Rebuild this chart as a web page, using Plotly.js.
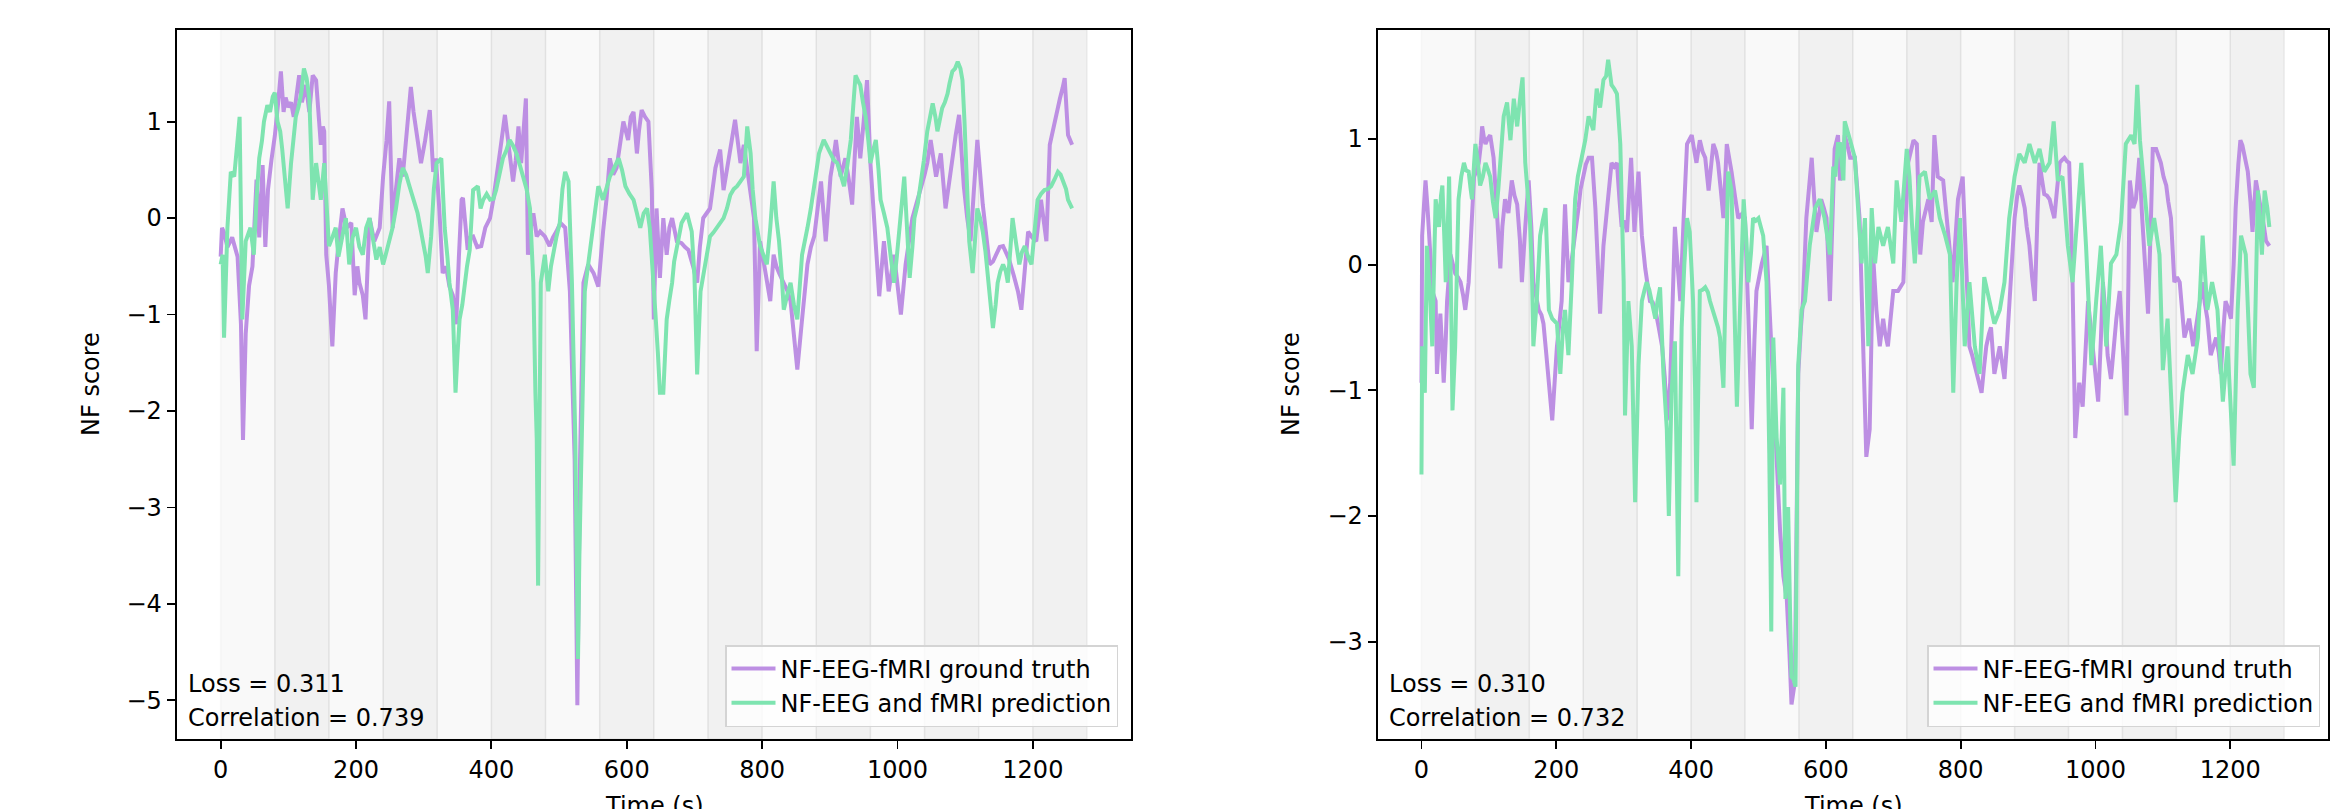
<!DOCTYPE html>
<html>
<head>
<meta charset="utf-8">
<script src="https://cdn.plot.ly/plotly-3.0.1.min.js"></script>
<style>html,body{margin:0;padding:0;background:#fff;}#chart{width:2335px;height:809px;}</style>
</head>
<body>
<div id="chart"></div>
<script>
// ---------- DATA ----------
const bandEdges = [0,80,160,240,320,400,480,560,640,720,800,880,960,1040,1120,1200,1280];
const xTicks = [0,200,400,600,800,1000,1200];
const yTicksLeft = [-5,-4,-3,-2,-1,0,1];
const yTicksRight = [-3,-2,-1,0,1];
const seriesNames = ["NF-EEG-fMRI ground truth","NF-EEG and fMRI prediction"];
const statsLeft = ["Loss = 0.311","Correlation = 0.739"];
const statsRight = ["Loss = 0.310","Correlation = 0.732"];

// Left panel: ground truth
const tGtA = [0,2,5,10,17,25,30,33,37,42,47,53,57,62,66,70,75,80,85,89,93,96,100,104,108,112,116,120,126,131,136,141,145,148,151,153,156,160,165,170,175,180,186,193,198,202,205,210,214,220,227,235,240,245,249,254,259,264,269,275,281,285,289,296,302,309,314,318,323,328,333,338,343,346,348,352,356,358,362,365,369,373,379,385,391,398,403,407,413,420,424,427,432,436,440,444,448,451,454,458,462,467,472,479,486,491,496,502,509,516,519,523,527,531,536,543,551,558,565,570,575,580,585,590,595,602,606,610,615,618,622,627,632,637,640,644,649,654,659,663,667,674,681,686,691,698,704,708,713,718,723,731,738,743,750,755,760,764,768,773,780,784,788,792,797,801,805,812,817,821,825,832,837,842,847,852,859,863,867,872,877,882,887,894,901,905,909,916,923,928,933,940,945,950,955,960,965,969,973,980,987,995,1000,1005,1012,1017,1022,1028,1034,1040,1044,1049,1057,1064,1071,1079,1086,1091,1098,1103,1108,1113,1118,1126,1131,1136,1141,1146,1151,1156,1160,1165,1172,1178,1183,1188,1193,1199,1205,1212,1220,1225,1232,1236,1240,1244,1247,1252,1258];
const gtA = [-0.4,-0.1,-0.15,-0.3,-0.2,-0.4,-1.1,-2.3,-1.2,-0.7,-0.5,0.4,-0.2,0.55,-0.3,0.3,0.6,0.85,1.2,1.52,1.1,1.25,1.15,1.2,1.05,1.3,1.48,1.2,1.38,1.1,1.48,1.43,1.1,0.76,0.95,0.9,-0.38,-0.7,-1.33,-0.57,-0.2,0.1,-0.1,-0.05,-0.8,-0.5,-0.67,-0.8,-1.05,0,-0.24,-0.1,0.43,0.8,1.21,-0.1,0.3,0.62,0.43,0.9,1.36,1.1,0.9,0.57,0.8,1.12,0.48,0.62,0.1,-0.57,-0.5,-0.71,-0.8,-0.95,-1.1,-0.4,0.19,0.21,-0.1,-0.33,-0.2,-0.19,-0.3,-0.29,-0.1,0,0.2,0.43,0.7,1.07,0.85,0.71,0.38,0.6,0.95,0.57,0.9,1.24,-0.38,-0.1,0.05,-0.19,-0.14,-0.19,-0.29,-0.2,-0.14,-0.05,-0.1,-0.76,-1.52,-2.5,-5.05,-2.5,-0.67,-0.48,-0.57,-0.71,-0.14,0.19,0.62,0.45,0.52,0.8,1.0,0.81,1.05,1.1,0.67,0.9,1.12,1.05,1.0,0.29,-1.05,0.1,-0.62,0,-0.38,-0.1,0,-0.24,-0.26,-0.3,-0.33,-0.5,-0.67,-0.3,0,0.05,0.1,0.52,0.71,0.29,0.62,0.8,1.02,0.75,0.57,0.76,0.38,0.2,0,-1.38,-0.24,-0.4,-0.57,-0.86,-0.38,-0.5,-0.57,-0.67,-0.75,-0.86,-1.2,-1.57,-1.05,-0.7,-0.48,-0.3,-0.19,0.1,0.38,-0.24,0.43,0.6,0.81,0.43,0.62,0.4,0.14,1.05,0.62,1.0,1.43,0.57,0.05,-0.4,-0.81,-0.24,-0.76,-0.38,-0.7,-1.0,-0.48,-0.2,0,0.15,0.29,0.45,0.57,0.81,0.43,0.67,0.1,0.52,0.86,1.07,0.33,0.0,-0.24,0.3,0.81,0.14,-0.2,-0.48,-0.45,-0.38,-0.3,-0.29,-0.35,-0.43,-0.6,-0.76,-0.95,-0.5,-0.14,-0.2,-0.24,0.19,-0.24,0.76,1.0,1.1,1.24,1.35,1.45,0.86,0.76];

// Left panel: prediction
const tPredA = [0,3,5,10,15,20,25,28,32,37,44,49,53,57,61,64,69,73,77,80,84,88,91,95,99,104,108,111,115,119,123,127,131,134,136,141,145,148,153,157,160,165,170,174,178,182,185,190,195,200,205,210,215,220,225,230,235,240,245,249,254,259,264,269,274,279,285,291,295,299,303,306,311,315,319,326,331,335,338,343,347,350,353,357,360,364,368,373,380,384,388,393,398,403,407,412,417,422,427,432,437,442,447,452,457,462,465,467,469,471,473,479,484,488,491,496,501,505,509,514,519,522,524,526,528,530,533,536,538,543,547,551,555,558,565,570,575,580,588,593,598,604,610,615,620,625,630,634,637,642,646,649,654,659,663,667,670,674,681,689,696,700,704,709,716,723,728,733,738,743,748,753,758,763,768,773,778,783,786,790,797,802,807,812,817,821,825,829,832,837,842,847,852,859,863,867,872,877,884,891,896,901,906,911,916,921,926,931,935,938,942,945,949,953,957,960,964,968,972,975,980,985,990,995,999,1003,1007,1010,1014,1018,1022,1025,1030,1034,1039,1044,1048,1052,1056,1059,1062,1066,1070,1074,1077,1081,1085,1089,1093,1096,1099,1101,1104,1106,1111,1115,1118,1122,1126,1130,1133,1137,1141,1145,1148,1152,1156,1160,1163,1167,1170,1175,1180,1184,1188,1193,1198,1203,1207,1212,1217,1222,1227,1232,1237,1241,1245,1249,1252,1255,1258];
const predA = [-0.48,-0.38,-1.24,-0.1,0.48,0.43,0.81,1.05,-1.05,-0.24,-0.1,-0.38,0.2,0.62,0.8,1.0,1.17,1.1,1.26,1.3,1.0,0.9,0.71,0.4,0.1,0.57,0.8,1.05,1.15,1.29,1.55,1.45,1.24,0.6,0.19,0.57,0.3,0.19,0.57,0.1,-0.29,-0.2,-0.1,-0.4,-0.24,-0.1,0,-0.48,-0.2,-0.1,-0.3,-0.38,-0.1,0,-0.2,-0.43,-0.3,-0.48,-0.35,-0.24,-0.1,0.1,0.35,0.52,0.45,0.33,0.2,0.05,-0.1,-0.24,-0.4,-0.57,-0.19,0.3,0.57,0.62,-0.1,-0.4,-0.67,-0.95,-1.81,-1.4,-1.05,-0.9,-0.71,-0.5,-0.33,0.29,0.33,0.1,0.19,0.25,0.19,0.2,0.29,0.45,0.62,0.7,0.81,0.75,0.67,0.55,0.43,0.3,0.1,-0.67,-1.8,-2.29,-3.81,-2.0,-0.67,-0.38,-0.76,-0.5,-0.38,-0.2,-0.05,0.3,0.48,0.38,-0.67,-1.5,-2.29,-3.5,-4.57,-3.5,-2.29,-1.3,-0.76,-0.48,-0.25,-0.05,0.15,0.33,0.19,0.3,0.43,0.5,0.62,0.5,0.33,0.25,0.19,0.05,-0.1,0.05,0.1,-0.1,-0.48,-0.95,-1.4,-1.81,-1.81,-1.05,-0.85,-0.67,-0.45,-0.29,-0.05,0.05,-0.14,-0.6,-1.62,-0.76,-0.48,-0.19,-0.15,-0.1,-0.05,0,0.1,0.24,0.3,0.33,0.38,0.43,0.95,0.67,0.3,0,-0.29,-0.4,-0.48,-0.1,0.38,0.0,-0.24,-0.6,-0.95,-0.8,-0.67,-0.9,-1.05,-0.38,-0.25,-0.1,0.1,0.33,0.67,0.81,0.75,0.67,0.6,0.57,0.45,0.33,0.55,0.81,1.2,1.48,1.42,1.38,1.2,1.05,0.8,0.57,0.7,0.81,0.5,0.19,0.05,-0.1,-0.4,-0.67,-0.4,-0.14,0.2,0.43,-0.1,-0.62,-0.3,0,0.15,0.33,0.6,0.9,1.05,1.19,1.05,0.9,1.0,1.14,1.2,1.29,1.4,1.52,1.55,1.62,1.55,1.43,1.0,0.57,0.2,-0.24,-0.57,-0.2,0.1,0.0,-0.14,-0.35,-0.57,-0.85,-1.14,-0.9,-0.67,-0.55,-0.48,-0.55,-0.67,-0.3,0,-0.25,-0.48,-0.35,-0.29,-0.4,-0.48,-0.1,0.19,0.25,0.29,0.3,0.33,0.4,0.48,0.45,0.38,0.3,0.19,0.15,0.1];

// Right panel: ground truth
const tGtB = [0,1,4,6,9,11,14,16,21,23,26,28,31,33,36,38,43,47,50,54,58,62,65,70,74,78,82,85,88,90,93,95,98,102,107,112,117,120,124,129,134,138,142,146,149,154,159,163,166,170,174,178,181,185,189,194,198,201,205,208,213,218,222,226,230,233,236,240,244,248,253,258,262,265,270,275,279,282,286,290,294,297,301,305,311,316,322,327,332,336,339,343,347,352,357,361,364,369,373,376,380,384,389,394,398,401,405,408,413,417,421,426,430,433,437,440,444,448,453,457,460,465,470,475,480,485,490,494,497,501,505,512,516,520,524,528,532,537,542,546,549,554,557,559,563,566,571,575,579,583,586,590,593,597,601,606,609,613,618,621,626,628,632,636,643,647,650,655,660,665,668,670,675,680,685,688,692,696,700,707,711,715,718,722,726,730,735,740,744,748,752,757,761,766,770,774,777,781,785,788,792,796,803,808,813,817,821,826,831,835,838,842,845,850,854,858,862,865,869,872,876,880,884,887,891,895,898,902,906,910,914,917,920,924,928,932,935,939,943,947,950,954,958,961,964,966,970,973,976,981,985,989,993,996,1000,1004,1008,1011,1015,1018,1023,1027,1031,1036,1041,1046,1051,1056,1060,1065,1069,1073,1078,1082,1085,1090,1094,1097,1101,1105,1108,1112,1117,1121,1125,1129,1132,1136,1139,1145,1149,1152,1155,1159,1162,1166,1171,1175,1179,1183,1186,1190,1193,1197,1201,1205,1208,1212,1215,1218,1221,1226,1230,1233,1238,1242,1246,1250,1253,1258];
const gtB = [-0.94,0.23,0.5,0.67,0.45,0.3,0.0,-0.21,-0.29,-0.87,-0.6,-0.39,-0.7,-0.94,-0.6,-0.29,0.08,0.0,-0.07,-0.1,-0.14,-0.25,-0.36,-0.14,0.3,0.7,0.75,0.81,0.95,1.1,1.0,0.96,1.0,1.03,0.85,0.37,-0.03,0.3,0.52,0.41,0.67,0.55,0.48,0.2,-0.14,0.3,0.67,0.3,-0.14,-0.25,-0.36,-0.4,-0.47,-0.7,-0.98,-1.24,-0.9,-0.65,-0.45,-0.29,0.48,-0.14,0.0,0.15,0.3,0.45,0.6,0.7,0.8,0.85,0.85,0.45,0.0,-0.39,0.15,0.45,0.65,0.81,0.78,0.81,0.5,0.3,0.35,0.26,0.85,0.26,0.74,0.23,-0.03,-0.2,-0.29,-0.3,-0.36,-0.5,-0.65,-0.9,-1.24,-0.94,-0.3,0.3,0.0,-0.29,0.37,0.96,1.0,1.03,0.9,0.81,0.99,0.9,0.85,0.59,0.8,0.96,0.9,0.81,0.6,0.37,0.96,0.85,0.74,0.55,0.37,0.4,0.37,-0.4,-1.31,-0.6,-0.21,-0.1,0.01,0.15,-0.3,-0.87,-1.31,-1.7,-2.11,-2.48,-2.66,-3.1,-3.5,-3.32,-2.0,-0.87,-0.5,-0.29,0.37,0.6,0.85,0.5,0.26,0.4,0.52,0.45,0.37,-0.29,0.3,0.92,1.03,0.67,0.85,1.03,0.95,0.85,0.85,0.6,0.37,-0.58,-1.53,-1.31,-0.3,0.08,-0.36,-0.65,-0.43,-0.55,-0.65,-0.4,-0.21,-0.21,-0.18,-0.14,0.3,0.81,0.9,0.99,0.96,0.08,0.34,0.45,0.52,0.34,1.03,0.7,0.68,0.67,0.5,0.3,0.05,-0.14,0.2,0.52,0.7,0.08,-0.65,-0.72,-0.8,-0.9,-1.02,-0.8,-0.65,-0.55,-0.5,-0.87,-0.75,-0.65,-0.8,-0.91,-0.6,-0.36,0.0,0.37,0.55,0.63,0.55,0.45,0.3,0.15,-0.1,-0.29,0.4,0.81,0.7,0.56,0.55,0.52,0.45,0.37,0.6,0.81,0.83,0.85,0.82,0.81,0.3,-0.14,-1.38,-1.1,-0.94,-1.13,-0.7,-0.29,-0.5,-0.65,-0.9,-1.09,-0.6,-0.14,-0.4,-0.72,-0.91,-0.65,-0.43,-0.21,-0.7,-1.2,0.67,0.45,0.52,0.85,0.4,0.01,-0.39,0.3,0.92,0.92,0.85,0.81,0.7,0.63,0.5,0.37,-0.14,-0.1,-0.14,-0.4,-0.58,-0.5,-0.43,-0.65,-0.5,-0.36,-0.25,-0.14,-0.3,-0.43,-0.72,-0.65,-0.58,-0.7,-0.87,-0.5,-0.29,-0.35,-0.43,0.0,0.45,0.8,0.99,0.95,0.88,0.74,0.5,0.26,0.67,0.55,0.45,0.3,0.19,0.15];

// Right panel: prediction
const tPredB = [0,1,3,5,8,11,13,16,19,21,24,26,29,31,34,36,39,41,44,46,50,53,55,59,63,66,70,73,75,78,80,84,87,91,95,99,102,106,110,114,117,122,127,132,137,142,147,150,154,158,161,164,166,171,176,180,184,187,189,194,198,201,206,210,213,218,223,228,232,236,240,243,248,252,255,260,265,270,274,277,280,282,286,290,295,298,300,302,307,312,315,317,322,327,331,334,338,342,347,350,354,359,364,367,371,376,379,381,384,386,390,394,398,403,406,408,413,417,421,425,428,432,436,440,443,448,452,455,460,464,468,473,478,482,485,489,492,496,500,507,512,516,519,522,527,532,537,540,544,547,549,552,555,557,559,564,569,576,580,584,591,598,606,611,614,618,621,626,628,632,636,643,648,653,658,663,668,673,678,685,692,700,705,712,720,724,728,732,739,747,754,762,769,777,784,789,794,799,806,813,821,828,835,843,850,858,865,872,880,887,895,902,910,917,924,932,938,944,951,959,966,974,979,986,994,1001,1008,1016,1023,1031,1038,1045,1053,1058,1062,1066,1073,1080,1087,1095,1100,1107,1112,1119,1124,1129,1137,1144,1152,1159,1166,1173,1181,1189,1196,1205,1211,1216,1223,1230,1235,1241,1247,1251,1255,1258];
const predB = [-1.67,-0.65,-0.8,-1.02,0.15,-0.1,-0.29,-0.65,0.2,0.52,0.4,0.3,0.55,0.63,0.2,-0.14,0.3,0.7,-0.3,-1.16,-0.65,0.1,0.52,0.7,0.81,0.75,0.74,0.6,0.52,0.8,0.96,0.8,0.63,0.7,0.81,0.75,0.7,0.5,0.37,0.6,0.81,1.18,1.29,0.99,1.32,1.1,1.36,1.49,0.81,0.5,0.34,-0.1,-0.65,-0.29,0.23,0.35,0.45,0.0,-0.36,-0.43,-0.45,-0.47,-0.87,-0.5,-0.36,-0.72,-0.14,0.52,0.7,0.81,0.9,0.99,1.18,1.1,1.07,1.4,1.25,1.47,1.5,1.63,1.5,1.43,1.4,1.36,0.96,0.4,-0.14,-1.2,-0.29,-0.65,-1.3,-1.89,-0.8,-0.29,-0.2,-0.14,-0.2,-0.29,-0.43,-0.3,-0.18,-0.87,-1.31,-2.0,-1.02,-0.61,-1.5,-2.48,-1.2,-0.5,0.0,0.37,0.26,-0.29,-1.0,-1.89,-0.21,-0.2,-0.18,-0.22,-0.29,-0.35,-0.43,-0.5,-0.58,-0.98,0.0,0.74,0.59,-0.3,-1.13,-0.29,0.52,0.2,-0.14,0.1,0.37,0.35,0.37,0.23,-0.14,-1.5,-2.92,-0.58,-1.38,-1.75,-0.98,-2.66,-1.93,-2.8,-3.28,-3.3,-3.36,-2.0,-0.8,-0.36,-0.29,0.15,0.3,0.45,0.52,0.37,0.08,0.78,0.7,0.96,0.96,0.67,1.14,1.05,0.99,0.85,0.37,0.01,0.37,-0.65,0.45,0.01,0.3,0.15,0.3,0.01,0.67,0.34,0.92,0.7,0.3,0.01,0.7,0.74,0.52,0.59,0.37,0.23,0.08,-1.02,-0.14,0.37,-0.65,-0.14,-0.65,-0.87,-0.1,-0.29,-0.47,-0.36,-0.14,0.37,0.7,0.88,0.81,0.96,0.81,0.92,0.74,0.81,1.14,0.67,0.7,0.15,-0.14,0.45,0.81,0.15,-0.8,-0.29,0.15,-0.65,0.01,0.08,0.34,0.96,1.03,0.96,1.43,0.99,0.59,0.15,0.37,0.08,-0.84,-0.43,-1.02,-1.89,-1.38,-1.02,-0.72,-0.87,-0.58,0.23,-0.36,-0.14,-0.36,-1.09,-0.65,-1.6,-0.36,0.23,0.08,-0.87,-0.98,0.59,0.08,0.59,0.45,0.3];

// ---------- STYLE ----------
const PURPLE = '#bd8fe3';
const GREEN = '#7ee4b0';
const FONT = 'DejaVu Sans, Verdana, sans-serif';
const W = 2335, H = 809;
const leftPx = [177, 1131], rightPx = [1378, 2328], topPx = 29.5, botPx = 739;
const px2x = p => p / W, px2y = p => (H - p) / H;

const traces = [
  {x: tGtA, y: gtA, name: seriesNames[0], xaxis:'x', yaxis:'y', legend:'legend', mode:'lines', line:{color:PURPLE, width:4}},
  {x: tPredA, y: predA, name: seriesNames[1], xaxis:'x', yaxis:'y', legend:'legend', mode:'lines', line:{color:GREEN, width:4}},
  {x: tGtB, y: gtB, name: seriesNames[0], xaxis:'x2', yaxis:'y2', legend:'legend2', mode:'lines', line:{color:PURPLE, width:4}},
  {x: tPredB, y: predB, name: seriesNames[1], xaxis:'x2', yaxis:'y2', legend:'legend2', mode:'lines', line:{color:GREEN, width:4}}
];

const shapes = [];
['x','x2'].forEach(xr => {
  for (let i = 0; i < bandEdges.length - 1; i++) {
    const a = i % 2 === 0 ? 0.05 : 0.11;
    shapes.push({type:'rect', layer:'below', xref:xr, yref:(xr==='x'?'y domain':'y2 domain'),
      x0:bandEdges[i], x1:bandEdges[i+1], y0:0, y1:1,
      fillcolor:`rgba(128,128,128,${a})`, line:{color:`rgba(128,128,128,${a})`, width:1.5}});
  }
});

const axisCommon = {
  showgrid:false, zeroline:false, showline:true, mirror:true, linecolor:'#000', linewidth:1.9,
  ticks:'outside', ticklen:8.5, tickwidth:1.9, tickcolor:'#000',
  tickfont:{family:FONT, size:24, color:'#000'}, fixedrange:true
};

const legendCommon = {xanchor:'right', y:px2y(727), yanchor:'bottom', bgcolor:'rgba(255,255,255,0.8)',
  bordercolor:'#d4d4d4', borderwidth:1.5, font:{family:FONT, size:24, color:'#000'}, traceorder:'normal', itemwidth:44};

const layout = {
  width:W, height:H, margin:{l:0,r:0,t:0,b:0}, paper_bgcolor:'#fff', plot_bgcolor:'#fff',
  font:{family:FONT, size:24, color:'#000'},
  xaxis: Object.assign({}, axisCommon, {domain:[px2x(leftPx[0]), px2x(leftPx[1])], range:[-64.5,1345], tickvals:xTicks, anchor:'y'}),
  yaxis: Object.assign({}, axisCommon, {domain:[px2y(botPx), px2y(topPx)], range:[-5.40,1.955], tickvals:yTicksLeft, anchor:'x'}),
  xaxis2: Object.assign({}, axisCommon, {domain:[px2x(rightPx[0]), px2x(rightPx[1])], range:[-64.5,1345], tickvals:xTicks, anchor:'y2'}),
  yaxis2: Object.assign({}, axisCommon, {domain:[px2y(botPx), px2y(topPx)], range:[-3.775,1.871], tickvals:yTicksRight, anchor:'x2'}),
  shapes: shapes,
  legend: Object.assign({}, legendCommon, {x:px2x(1118)}),
  legend2: Object.assign({}, legendCommon, {x:px2x(2320)}),
  showlegend:true,
  annotations: [
    {text:statsLeft[0], xref:'paper', yref:'paper', x:px2x(186), y:px2y(684), xanchor:'left', yanchor:'middle', showarrow:false, font:{family:FONT,size:24,color:'#000'}},
    {text:statsLeft[1], xref:'paper', yref:'paper', x:px2x(186), y:px2y(717.5), xanchor:'left', yanchor:'middle', showarrow:false, font:{family:FONT,size:24,color:'#000'}},
    {text:statsRight[0], xref:'paper', yref:'paper', x:px2x(1387), y:px2y(684), xanchor:'left', yanchor:'middle', showarrow:false, font:{family:FONT,size:24,color:'#000'}},
    {text:statsRight[1], xref:'paper', yref:'paper', x:px2x(1387), y:px2y(717.5), xanchor:'left', yanchor:'middle', showarrow:false, font:{family:FONT,size:24,color:'#000'}},
    {text:'NF score', xref:'paper', yref:'paper', x:px2x(91), y:px2y(384), xanchor:'center', yanchor:'middle', textangle:-90, showarrow:false, font:{family:FONT,size:24,color:'#000'}},
    {text:'NF score', xref:'paper', yref:'paper', x:px2x(1291), y:px2y(384), xanchor:'center', yanchor:'middle', textangle:-90, showarrow:false, font:{family:FONT,size:24,color:'#000'}},
    {text:'Time (s)', xref:'paper', yref:'paper', x:px2x(654), y:px2y(806), xanchor:'center', yanchor:'middle', showarrow:false, font:{family:FONT,size:24,color:'#000'}},
    {text:'Time (s)', xref:'paper', yref:'paper', x:px2x(1853), y:px2y(806), xanchor:'center', yanchor:'middle', showarrow:false, font:{family:FONT,size:24,color:'#000'}}
  ]
};

Plotly.newPlot('chart', traces, layout, {displayModeBar:false, staticPlot:true});
</script>
</body>
</html>
